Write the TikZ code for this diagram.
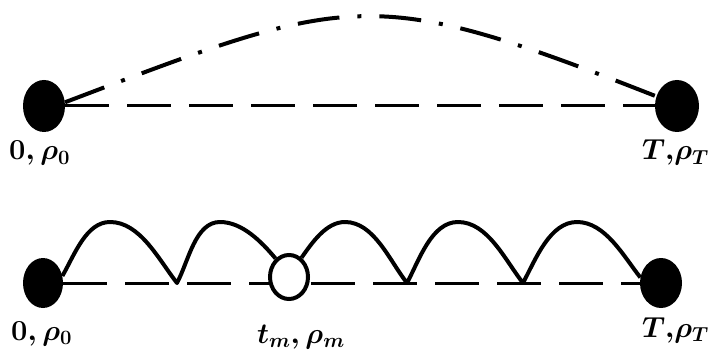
\RequirePackage{fix-cm}
\documentclass[tikz,border=0pt]{standalone}
\usetikzlibrary{shapes.geometric}
\begin{document}
\begin{tikzpicture}[x=1pt,y=1pt,
  dot/.style={ellipse, fill=black, inner sep=0pt},
  hollow/.style={ellipse, draw=black, fill=white, line width=4pt, inner sep=0pt, minimum width=38pt, minimum height=44pt},
  basedash/.style={line width=3pt, dash pattern=on 44pt off 18pt},
  chord/.style={line width=4pt, dash pattern=on 42pt off 18pt on 4pt off 18pt},
  hop/.style={line width=4pt, line join=round, looseness=0.85},
  lab/.style={inner sep=0pt, anchor=base west, font=\fontsize{29}{35}\selectfont\boldmath},
  labr/.style={lab, anchor=base east}]
\useasboundingbox (0,0) rectangle (710,354);
% top row
\node[dot, minimum width=42pt, minimum height=52pt] (a) at (44,248) {};
\node[dot, minimum width=44pt, minimum height=52pt] (b) at (677,248) {};
\draw[basedash] (a) -- (b);
\draw[chord] (a.10) .. controls (353,361) and (370,370) .. (b.155);
\node[lab] (la) at (9,194) {$0,\rho_0$};
\node[labr] (lb) at (709,194) {$T{,}\rho_T$};
% bottom row
\node[dot, minimum width=40pt, minimum height=50pt] (c) at (43,71) {};
\node[dot, minimum width=42pt, minimum height=50pt] (d) at (661,71) {};
\draw[basedash] (c) -- (d);
\node[hollow] (m) at (289,77) {};
\coordinate (p1) at (110,132);
\coordinate (v1) at (177,71);
\coordinate (p2) at (220,132);
\coordinate (p3) at (345,132);
\coordinate (v2) at (407,71);
\coordinate (p4) at (458,132);
\coordinate (v3) at (523,71);
\coordinate (p5) at (577,132);
\draw[hop] (c.20) to[out=60,in=180] (p1) to[out=0,in=128] (v1)
  to[out=62,in=180] (p2) to[out=0,in=130] (m.126);
\draw[hop] (m.57) to[out=55,in=180] (p3) to[out=0,in=128] (v2)
  to[out=62,in=180] (p4) to[out=0,in=128] (v3)
  to[out=62,in=180] (p5) to[out=0,in=128] (d.165);
\node[lab] (lc) at (11,14) {$0,\rho_0$};
\node[lab] (lm) at (257,11) {$t_m,\rho_m$};
\node[labr] (ld) at (709,17) {$T{,}\rho_T$};
\end{tikzpicture}
\end{document}
